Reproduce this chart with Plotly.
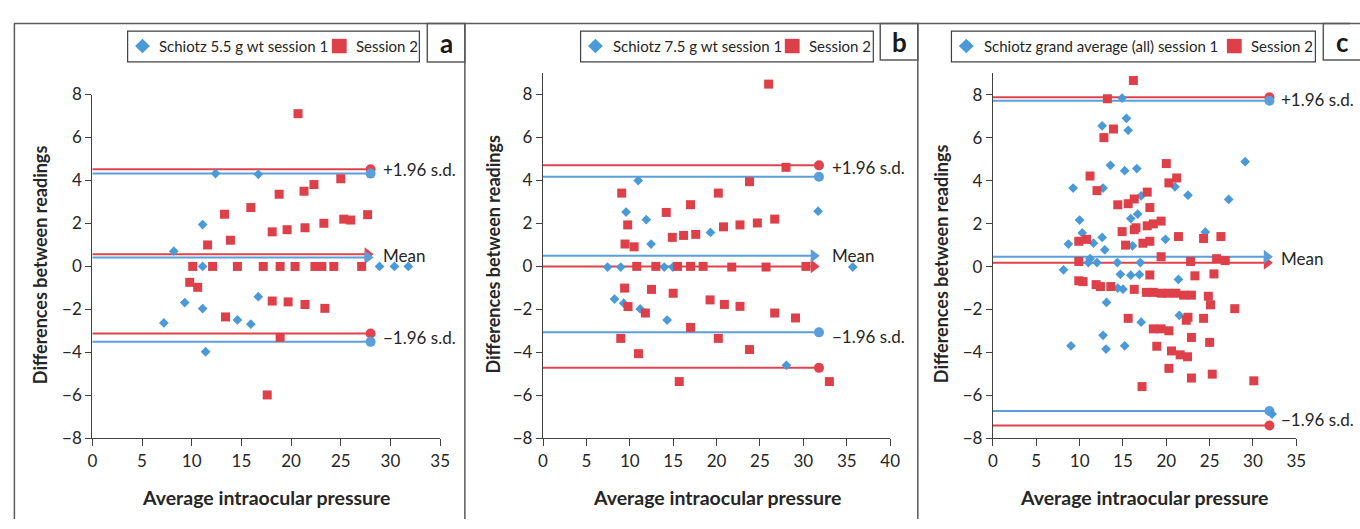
import plotly.graph_objects as go

# ---------------- data ----------------
# Panel a: Schiotz 5.5 g wt
a_s1_x = [8.2, 12.4, 16.7, 11.1, 11.1, 28.9, 30.4, 31.8, 7.2, 9.3, 11.1, 11.4, 14.6, 15.95, 16.7]
a_s1_y = [0.71, 4.32, 4.29, 1.95, 0.0, 0.0, 0.0, 0.0, -2.63, -1.68, -1.96, -3.97, -2.49, -2.69, -1.41]
a_s2_x = [20.7, 25.0, 22.3, 21.3, 18.8, 15.95, 13.3, 27.7, 25.3, 26.0, 23.3, 21.4, 19.6, 18.1, 13.9, 11.6,
          10.1, 12.1, 14.6, 17.2, 18.9, 20.4, 22.4, 23.1, 24.3, 27.1,
          9.8, 10.6, 13.4, 18.1, 19.7, 21.4, 23.4, 18.9, 17.6]
a_s2_y = [7.11, 4.08, 3.81, 3.50, 3.36, 2.74, 2.43, 2.41, 2.20, 2.16, 2.01, 1.80, 1.71, 1.61, 1.22, 1.00,
          0, 0, 0, 0, 0, 0, 0, 0, 0, 0,
          -0.74, -0.97, -2.35, -1.61, -1.65, -1.77, -1.95, -3.30, -5.98]
a_stats1 = {"mean": 0.42, "upper": 4.32, "lower": -3.51}
a_stats2 = {"mean": 0.57, "upper": 4.52, "lower": -3.12}
a_line_end = 28.0
a_arrow_end = 27.7

# Panel b: Schiotz 7.5 g wt
b_s1_x = [10.97, 9.57, 11.9, 12.45, 19.3, 31.7, 7.44, 8.96, 13.97, 14.96, 35.7, 8.24, 9.3, 11.2, 14.3, 28.05]
b_s1_y = [3.99, 2.53, 2.17, 1.04, 1.58, 2.57, -0.03, -0.03, -0.03, -0.03, -0.03, -1.52, -1.71, -1.98, -2.5, -4.6]
b_s2_x = [26.0, 28.0, 23.8, 20.2, 9.07, 17.0, 14.2, 26.7, 24.7, 22.7, 20.8, 17.6, 16.2, 14.9, 9.76, 9.45, 10.5,
          10.8, 13.0, 15.5, 17.0, 18.45, 21.75, 25.7, 30.3,
          9.4, 12.5, 15.0, 9.8, 11.8, 19.25, 20.9, 22.7, 26.7, 29.1, 17.0, 8.96, 20.2, 23.8, 11.0, 15.7, 33.0]
b_s2_y = [8.48, 4.61, 3.94, 3.41, 3.41, 2.87, 2.51, 2.20, 2.02, 1.93, 1.84, 1.49, 1.44, 1.35, 1.93, 1.04, 0.91,
          0, 0, 0, 0, 0, -0.03, -0.03, 0,
          -1.01, -1.07, -1.25, -1.87, -2.17, -1.56, -1.77, -1.86, -2.17, -2.40, -2.84, -3.35, -3.35, -3.87,
          -4.06, -5.36, -5.36]
b_stats1 = {"mean": 0.49, "upper": 4.17, "lower": -3.07}
b_stats2 = {"mean": 0.0, "upper": 4.70, "lower": -4.72}
b_line_end = 31.8
b_arrow_end = 31.2

# Panel c: Schiotz grand average (all)
c_s1_x = [14.9, 15.4, 12.6, 15.6, 13.55, 15.2, 16.6, 29.1, 9.25, 12.7, 21.0, 22.5, 17.1, 27.2, 16.7, 15.9,
          10.0, 10.3, 24.5, 12.6, 19.9, 11.6, 8.7, 16.1, 12.9, 11.2, 11.0, 12.0, 14.35, 17.0, 8.14,
          14.7, 15.9, 16.9, 21.4, 14.4, 15.0, 13.1, 21.5, 17.1, 12.7, 9.0, 13.05, 15.2, 32.2]
c_s1_y = [7.85, 6.91, 6.56, 6.35, 4.72, 4.47, 4.57, 4.89, 3.66, 3.66, 3.72, 3.33, 3.30, 3.13, 2.45, 2.24,
          2.17, 1.57, 1.61, 1.36, 1.27, 1.09, 1.05, 0.97, 0.78, 0.37, 0.19, 0.19, 0.19, 0.19, -0.15,
          -0.36, -0.40, -0.37, -0.60, -1.0, -1.05, -1.67, -2.27, -2.59, -3.20, -3.69, -3.84, -3.69, -6.87]
c_s2_x = [16.2, 13.2, 13.9, 12.8, 20.0, 21.2, 20.3, 11.2, 12.0, 17.8, 16.3, 15.6, 14.4, 18.1, 19.4, 18.5,
          17.8, 16.5, 16.3, 14.9, 21.4, 24.3, 26.3, 9.9, 10.8, 18.1, 17.3, 15.3, 19.4, 9.9, 22.8, 25.8, 26.8,
          18.1, 23.3, 25.5, 9.9, 10.4, 11.9, 12.4, 13.6, 16.3, 17.7, 18.5, 19.4, 20.2, 21.1, 22.0, 22.9,
          24.85, 25.1, 27.9, 15.6, 22.5, 22.3, 24.3, 18.5, 19.4, 20.3, 22.9, 25.0, 18.9, 20.6, 21.6, 22.45,
          20.3, 25.3, 22.9, 30.1, 17.2, 26.1]
c_s2_y = [8.67, 7.82, 6.41, 6.01, 4.80, 4.13, 3.90, 4.22, 3.54, 3.47, 3.15, 2.93, 2.88, 2.75, 2.12, 1.99,
          1.90, 1.81, 1.72, 1.63, 1.40, 1.31, 1.40, 1.18, 1.27, 1.18, 1.09, 1.0, 0.46, 0.24, 0.24, 0.37, 0.28,
          -0.39, -0.43, -0.34, -0.66, -0.70, -0.84, -0.93, -0.93, -1.06, -1.2, -1.2, -1.24, -1.24, -1.24,
          -1.33, -1.33, -1.38, -1.78, -1.96, -2.41, -2.36, -2.50, -2.41, -2.90, -2.90, -2.99, -3.30, -3.53,
          -3.71, -3.93, -4.11, -4.20, -4.74, -5.01, -5.19, -5.32, -5.59, -8.01]
c_stats1 = {"mean": 0.46, "upper": 7.73, "lower": -6.73}
c_stats2 = {"mean": 0.18, "upper": 7.89, "lower": -7.40}
c_line_end = 31.9
c_arrow_end = 31.6

legend_names = ["Schiotz 5.5 g wt session 1", "Schiotz 7.5 g wt session 1",
                "Schiotz grand average (all) session 1"]
legend_name2 = "Session 2"
panel_letters = ["a", "b", "c"]
x_title = "Average intraocular pressure"
y_title = "Differences between readings"
x_ranges = [[0, 35], [0, 40], [0, 35]]
y_ranges = [[-8, 8], [-8, 9], [-8, 9]]
x_dtick = 5
y_tickvals = [-8, -6, -4, -2, 0, 2, 4, 6, 8]
y_ticktext = ["\u22128", "\u22126", "\u22124", "\u22122", "0", "2", "4", "6", "8"]

# ---------------- style ----------------
W, H = 1360, 529
BLUE = "#4a9ad8"
RED = "#de4049"
BLUE_LINE = "#5a9fdb"
RED_LINE = "#e0434c"
TXT = "#262626"
AX = "#404040"
FRAME = "#5a5a5a"
FONT = "Lato"

def px_x(p):
    return p / W

def px_y(p):
    return 1 - p / H

x_dom_px = [(88.3, 440.0), (544.0, 895.0), (999.0, 1305.7)]
y_bottom_px = 445.0
y_top_px = [87.0, 64.5, 65.0]

panels = [
    (a_s1_x, a_s1_y, a_s2_x, a_s2_y, a_stats1, a_stats2, a_line_end, a_arrow_end),
    (b_s1_x, b_s1_y, b_s2_x, b_s2_y, b_stats1, b_stats2, b_line_end, b_arrow_end),
    (c_s1_x, c_s1_y, c_s2_x, c_s2_y, c_stats1, c_stats2, c_line_end, c_arrow_end),
]

fig = go.Figure()
layout = dict(
    width=W, height=H, margin=dict(l=0, r=0, t=0, b=0),
    paper_bgcolor="white", plot_bgcolor="white", showlegend=False,
    font=dict(family=FONT, color=TXT, size=15), hovermode=False,
)

annotations = []
shapes = []

for i, (s1x, s1y, s2x, s2y, st1, st2, lend, aend) in enumerate(panels):
    n = "" if i == 0 else str(i + 1)
    xa, ya = "x" + n, "y" + n
    for st, col in ((st2, RED_LINE), (st1, BLUE_LINE)):
        for key in ("upper", "lower"):
            fig.add_trace(go.Scatter(x=[0, lend], y=[st[key], st[key]], mode="lines",
                                     line=dict(color=col, width=2), xaxis=xa, yaxis=ya, cliponaxis=False))
            fig.add_trace(go.Scatter(x=[lend], y=[st[key]], mode="markers",
                                     marker=dict(size=10, color=col, symbol="circle"),
                                     xaxis=xa, yaxis=ya, cliponaxis=False))
        fig.add_trace(go.Scatter(x=[0, aend], y=[st["mean"], st["mean"]], mode="lines",
                                 line=dict(color=col, width=2), xaxis=xa, yaxis=ya, cliponaxis=False))
        fig.add_trace(go.Scatter(x=[aend], y=[st["mean"]], mode="markers",
                                 marker=dict(size=12, color=col, symbol="triangle-right"),
                                 xaxis=xa, yaxis=ya, cliponaxis=False))
    fig.add_trace(go.Scatter(x=s1x, y=s1y, mode="markers", name=legend_names[i],
                             marker=dict(symbol="diamond", size=7.5, color=BLUE),
                             xaxis=xa, yaxis=ya, cliponaxis=False))
    fig.add_trace(go.Scatter(x=s2x, y=s2y, mode="markers", name=legend_name2,
                             marker=dict(symbol="square", size=9, color=RED),
                             xaxis=xa, yaxis=ya, cliponaxis=False))

    x0, x1 = x_dom_px[i]
    layout["xaxis" + n] = dict(
        domain=[px_x(x0), px_x(x1)], range=x_ranges[i], anchor=ya, dtick=x_dtick, tick0=0,
        showline=True, linecolor=AX, linewidth=1.3, ticks="outside", ticklen=7, tickcolor=AX,
        showgrid=False, zeroline=False, tickfont=dict(size=17, color=TXT, family=FONT))
    layout["yaxis" + n] = dict(
        domain=[px_y(y_bottom_px), px_y(y_top_px[i])], range=y_ranges[i], anchor=xa,
        tickvals=y_tickvals, ticktext=y_ticktext,
        showline=True, linecolor=AX, linewidth=1.3, ticks="outside", ticklen=6, tickcolor=AX,
        showgrid=False, zeroline=False, tickfont=dict(size=17, color=TXT, family=FONT))

# line labels
text_pos = [
    (29.0, [(4.5, "+1.96 s.d."), (0.5, "Mean"), (-3.3, "\u22121.96 s.d.")]),
    (33.1, [(4.6, "+1.96 s.d."), (0.5, "Mean"), (-3.25, "\u22121.96 s.d.")]),
    (33.0, [(7.8, "+1.96 s.d."), (0.36, "Mean"), (-7.1, "\u22121.96 s.d.")]),
]
for i, (tx, items) in enumerate(text_pos):
    n = "" if i == 0 else str(i + 1)
    for ty, t in items:
        annotations.append(dict(x=tx, y=ty, xref="x" + n, yref="y" + n, text=t, showarrow=False,
                                xanchor="left", yanchor="middle",
                                font=dict(size=17, color=TXT, family=FONT)))

# axis titles
xt_px = [264, 720, 1152]
yt_px = [(35, 264), (493, 253), (946, 263)]
for i in range(3):
    annotations.append(dict(x=px_x(xt_px[i]), y=px_y(507), xref="paper", yref="paper", text=x_title,
                            showarrow=False, xanchor="center", yanchor="middle",
                            font=dict(size=19.5, color=TXT, family=FONT, weight="bold")))
    annotations.append(dict(x=px_x(yt_px[i][0]), y=px_y(yt_px[i][1]), xref="paper", yref="paper",
                            text=y_title, textangle=-90, showarrow=False, xanchor="center",
                            yanchor="middle", font=dict(size=18, color=TXT, family=FONT, weight="bold")))

# frame lines
top = 13
shapes.append(dict(type="line", xref="paper", yref="paper", x0=px_x(9), x1=1.0, y0=px_y(top), y1=px_y(top),
                   line=dict(color=FRAME, width=1.5)))
for vx in (9.5, 465, 923):
    shapes.append(dict(type="line", xref="paper", yref="paper", x0=px_x(vx), x1=px_x(vx), y0=px_y(top),
                       y1=0, line=dict(color=FRAME, width=1.5)))
letter_boxes = [(427, 465, 53), (885, 923, 51), (1333, 1375, 51)]
for (bx0, bx1, by1), letter in zip(letter_boxes, panel_letters):
    shapes.append(dict(type="rect", xref="paper", yref="paper", x0=px_x(bx0), x1=px_x(bx1),
                       y0=px_y(by1), y1=px_y(top), line=dict(color=FRAME, width=1.5)))
    annotations.append(dict(x=px_x(bx0 + 19), y=px_y((top + by1) / 2), xref="paper", yref="paper",
                            text=letter, showarrow=False, xanchor="center", yanchor="middle",
                            font=dict(size=26, color="#1a1a1a", family=FONT, weight="bold")))

# legends (boxes with a diamond and a square key)
legend_boxes = [(124, 419, 139, 154, 338, 353), (582, 878, 597, 613, 796, 811),
                (957, 1325, 972, 988, 1243, 1258)]
ly0, ly1, lyc = 21, 53, 36.5
for i, (bx0, bx1, dcx, t1x, scx, t2x) in enumerate(legend_boxes):
    shapes.append(dict(type="rect", xref="paper", yref="paper", x0=px_x(bx0), x1=px_x(bx1),
                       y0=px_y(ly1), y1=px_y(ly0), line=dict(color=AX, width=1.2), fillcolor="white"))
    d = 7.5
    path = "M {} {} L {} {} L {} {} L {} {} Z".format(
        px_x(dcx - d), px_y(lyc), px_x(dcx), px_y(lyc - d), px_x(dcx + d), px_y(lyc), px_x(dcx), px_y(lyc + d))
    shapes.append(dict(type="path", xref="paper", yref="paper", path=path, fillcolor=BLUE,
                       line=dict(width=0)))
    s = 7.5
    shapes.append(dict(type="rect", xref="paper", yref="paper", x0=px_x(scx - s), x1=px_x(scx + s),
                       y0=px_y(lyc + s), y1=px_y(lyc - s), fillcolor=RED, line=dict(width=0)))
    annotations.append(dict(x=px_x(t1x), y=px_y(lyc), xref="paper", yref="paper", text=legend_names[i],
                            showarrow=False, xanchor="left", yanchor="middle",
                            font=dict(size=15, color=TXT, family=FONT)))
    annotations.append(dict(x=px_x(t2x), y=px_y(lyc), xref="paper", yref="paper", text=legend_name2,
                            showarrow=False, xanchor="left", yanchor="middle",
                            font=dict(size=15, color=TXT, family=FONT)))

layout["annotations"] = annotations
layout["shapes"] = shapes
fig.update_layout(**layout)
fig.write_html(
    "out.html",
    config={"displayModeBar": False},
    post_script="document.body.style.margin='0';document.body.style.overflow='hidden';",
)
